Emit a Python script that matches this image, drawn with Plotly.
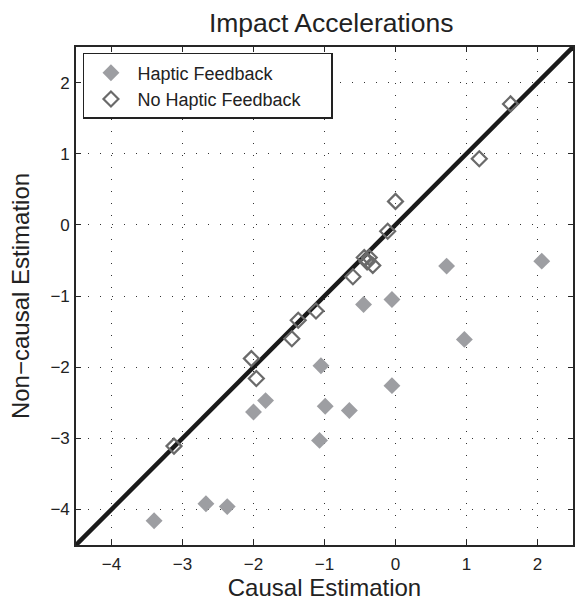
import plotly.graph_objects as go

# Haptic Feedback (filled diamonds)
haptic_x = [-3.40, -2.67, -2.37, -2.00, -1.83, -1.05, -0.99, -1.07, -0.65, -0.45, -0.05, -0.05, 0.72, 0.97, 2.06]
haptic_y = [-4.16, -3.92, -3.96, -2.63, -2.47, -1.98, -2.55, -3.03, -2.61, -1.12, -1.05, -2.26, -0.58, -1.61, -0.51]

# No Haptic Feedback (open diamonds)
nohaptic_x = [-3.12, -2.03, -1.96, -1.46, -1.37, -1.12, -0.60, -0.44, -0.37, -0.32, -0.40, -0.11, 0.00, 1.18, 1.62]
nohaptic_y = [-3.11, -1.88, -2.16, -1.60, -1.34, -1.21, -0.73, -0.46, -0.46, -0.57, -0.52, -0.09, 0.33, 0.93, 1.70]

# identity reference line
line_x = [-4.5, 2.5]
line_y = [-4.5, 2.5]

tick_vals = [-4, -3, -2, -1, 0, 1, 2]
axis_range = [-4.5, 2.5]

FONT = "Liberation Sans, Arial, Helvetica, sans-serif"
NBSP = "\u00a0"

fig = go.Figure()
fig.add_trace(go.Scatter(x=line_x, y=line_y, mode="lines",
                         line=dict(color="#1a1a1a", width=4.5),
                         showlegend=False, hoverinfo="skip"))
fig.add_trace(go.Scatter(x=haptic_x, y=haptic_y, mode="markers", name="Haptic Feedback",
                         marker=dict(symbol="diamond", size=13, color="#9d9ea2",
                                     line=dict(width=0))))
fig.add_trace(go.Scatter(x=nohaptic_x, y=nohaptic_y, mode="markers",
                         name="No Haptic Feedback" + NBSP * 5,
                         marker=dict(symbol="diamond-open", size=11.5, color="#6a6a6a",
                                     line=dict(width=2.2, color="#6a6a6a"))))

axis_common = dict(
    range=axis_range, tickvals=tick_vals, ticks="inside", ticklen=5, tickwidth=1.2,
    tickcolor="#262626", showline=True, linecolor="#262626", linewidth=1.6,
    mirror="ticks", showgrid=True, gridcolor="#333333", gridwidth=1.3,
    griddash="1.3px,10.7px", zeroline=False,
    tickfont=dict(family=FONT, size=17, color="#222222"),
)

fig.update_layout(
    width=578, height=601,
    margin=dict(l=76, r=3, t=47, b=54),
    plot_bgcolor="white", paper_bgcolor="white",
    title=dict(text="Impact Accelerations", x=0.573, xanchor="center", y=0.962, yanchor="middle",
               font=dict(family=FONT, size=26.5, color="#222222")),
    xaxis=dict(axis_common, ticklabelstandoff=3,
               title=dict(text="Causal Estimation", standoff=7,
                          font=dict(family=FONT, size=24, color="#222222"))),
    yaxis=dict(axis_common, ticklabelstandoff=1,
               title=dict(text=NBSP * 3 + "Non\u2212causal Estimation", standoff=14,
                          font=dict(family=FONT, size=24, color="#222222"))),
    legend=dict(x=0.014, y=0.988, xanchor="left", yanchor="top",
                bgcolor="white", bordercolor="#222222", borderwidth=1.5,
                itemwidth=43,
                font=dict(family=FONT, size=18, color="#222222")),
    showlegend=True,
)

fig.write_html("out.html")
